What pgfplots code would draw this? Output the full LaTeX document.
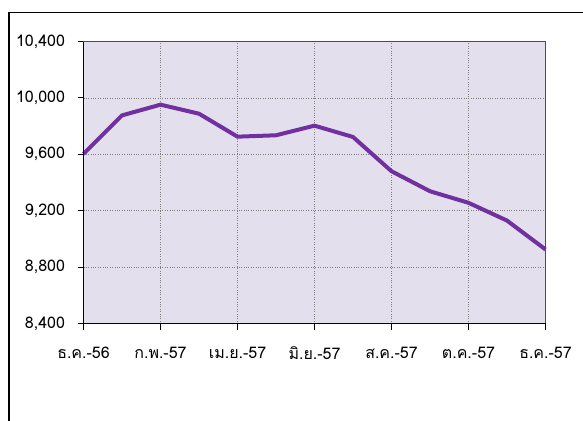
\documentclass[border=0pt]{standalone}
\usepackage{fontspec}
\usepackage{pgfplots}
\pgfplotsset{compat=1.18}
\setmainfont[Script=Thai]{Loma}
\definecolor{bgl}{HTML}{E4DFEC}
\definecolor{ln}{HTML}{7030A0}
\begin{document}
\fontsize{16bp}{18bp}\selectfont
\begin{tikzpicture}
\useasboundingbox (0bp,0bp) rectangle (583bp,-421bp);
\draw[line width=1.5bp] (9bp,-421bp) -- (9bp,-12.5bp) -- (583bp,-12.5bp);
\begin{axis}[
  at={(83.5bp,-323.5bp)}, anchor=south west,
  scale only axis, width=462bp, height=282bp,
  xmin=0, xmax=12, ymin=8400, ymax=10400,
  xtick={0,2,...,12},
  xticklabels={ธ.ค.-56, ก.พ.-57, เม.ย.-57, มิ.ย.-57, ส.ค.-57, ต.ค.-57, ธ.ค.-57},
  ytick={8400,8800,...,10400},
  scaled y ticks=false,
  xtick pos=bottom, ytick pos=left,
  tick align=outside, major tick length=6bp,
  tick style={black, line width=1bp},
  axis line style={draw=black!70, line width=1bp},
  axis background/.style={fill=bgl},
  grid=major, major grid style={black!50, dotted, line width=0.8bp},
  yticklabel={\pgfmathprintnumber[1000 sep={,}, assume math mode=true, fixed]{\tick}},
  xticklabel style={font=\fontsize{16bp}{18bp}\selectfont, yshift=-12bp},
  yticklabel style={font=\fontsize{16bp}{18bp}\selectfont, xshift=-7bp},
  clip=false,
]
\addplot[ln, line width=4bp, line join=round] coordinates {
(0,9603) (1,9876) (2,9952) (3,9888) (4,9725) (5,9735) (6,9803)
(7,9723) (8,9480) (9,9338) (10,9256) (11,9130) (12,8925)};
\draw[black, line width=1.2bp] (rel axis cs:0,1) -- (rel axis cs:0,0) -- (rel axis cs:1,0);
\end{axis}
\end{tikzpicture}
\end{document}
